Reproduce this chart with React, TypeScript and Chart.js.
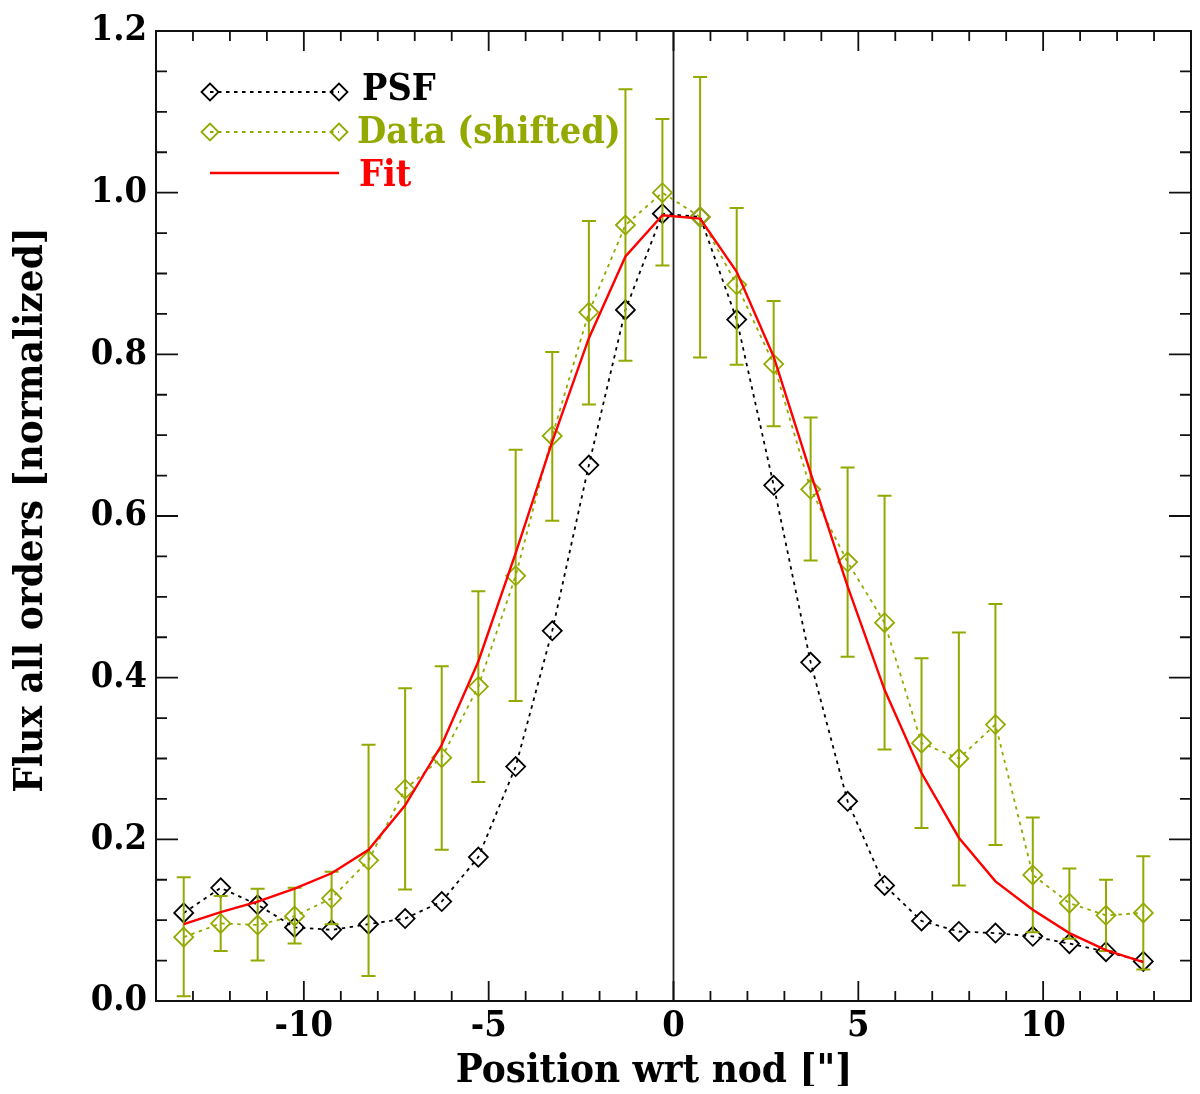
import React, { useEffect, useRef } from 'react';
import { Chart, registerables } from 'chart.js';

Chart.register(...registerables);

// ---- data ----
const positions = [-13.25, -12.25, -11.25, -10.25, -9.25, -8.25, -7.26, -6.27, -5.28, -4.27, -3.28, -2.29, -1.30, -0.30, 0.72, 1.71, 2.71, 3.71, 4.71, 5.71, 6.71, 7.72, 8.71, 9.72, 10.71, 11.70, 12.71];
const psfValues = [0.109, 0.140, 0.119, 0.091, 0.088, 0.095, 0.102, 0.123, 0.178, 0.290, 0.458, 0.663, 0.855, 0.974, 0.970, 0.843, 0.638, 0.419, 0.247, 0.143, 0.099, 0.086, 0.084, 0.080, 0.071, 0.061, 0.049];
const dataValues = [0.079, 0.096, 0.094, 0.105, 0.127, 0.174, 0.262, 0.301, 0.389, 0.526, 0.699, 0.852, 0.960, 1.000, 0.970, 0.886, 0.788, 0.633, 0.543, 0.468, 0.319, 0.300, 0.342, 0.156, 0.121, 0.106, 0.109];
const dataHigh = [0.153, 0.130, 0.139, 0.140, 0.160, 0.317, 0.387, 0.414, 0.507, 0.682, 0.803, 0.965, 1.128, 1.091, 1.143, 0.981, 0.866, 0.722, 0.660, 0.625, 0.424, 0.456, 0.491, 0.227, 0.164, 0.150, 0.179];
const dataLow = [0.006, 0.062, 0.050, 0.071, 0.095, 0.031, 0.138, 0.187, 0.271, 0.371, 0.594, 0.738, 0.792, 0.910, 0.796, 0.787, 0.711, 0.545, 0.426, 0.311, 0.214, 0.143, 0.193, 0.085, 0.077, 0.062, 0.039];
const fitValues = [0.095, 0.110, 0.123, 0.139, 0.158, 0.187, 0.242, 0.317, 0.420, 0.554, 0.692, 0.820, 0.921, 0.972, 0.968, 0.902, 0.797, 0.653, 0.513, 0.385, 0.282, 0.202, 0.148, 0.113, 0.084, 0.063, 0.048];

const xMajorTicks = [-10, -5, 0, 5, 10];
const xMinorTicks = [-13, -12, -11, -9, -8, -7, -6, -4, -3, -2, -1, 1, 2, 3, 4, 6, 7, 8, 9, 11, 12, 13];
const yMajorTicks = [0, 0.2, 0.4, 0.6, 0.8, 1.0, 1.2];
const yMinorTicks = [0.05, 0.1, 0.15, 0.25, 0.3, 0.35, 0.45, 0.5, 0.55, 0.65, 0.7, 0.75, 0.85, 0.9, 0.95, 1.05, 1.1, 1.15];

const legendLabels = ['PSF', 'Data (shifted)', 'Fit'];
const xTitle = 'Position wrt nod ["]';
const yTitle = 'Flux all orders [normalized]';

const FONT = "'DejaVu Serif Condensed', 'DejaVu Serif', serif";
const GREEN = '#94a900';
const BLACK = '#000000';
const RED = '#ff0000';

const toPoints = (ys: number[]) => positions.map((x, i) => ({ x, y: ys[i] }));

function diamond(ctx: CanvasRenderingContext2D, x: number, y: number, r: number) {
  ctx.beginPath();
  ctx.moveTo(x - r, y);
  ctx.lineTo(x, y - r);
  ctx.lineTo(x + r, y);
  ctx.lineTo(x, y + r);
  ctx.closePath();
  ctx.stroke();
}

const decorPlugin = {
  id: 'decor',
  beforeDatasetsDraw(chart: any) {
    const { ctx, chartArea: a, scales } = chart;
    const x0 = scales.x.getPixelForValue(0);
    ctx.save();
    ctx.strokeStyle = '#222';
    ctx.lineWidth = 1.8;
    ctx.beginPath();
    ctx.moveTo(x0, a.top);
    ctx.lineTo(x0, a.bottom);
    ctx.stroke();
    ctx.restore();
  },
  afterDatasetDraw(chart: any, args: any) {
    if (args.meta.label !== legendLabels[1]) return;
    const { ctx, scales } = chart;
    ctx.save();
    ctx.strokeStyle = GREEN;
    ctx.lineWidth = 2;
    positions.forEach((xv, i) => {
      const px = scales.x.getPixelForValue(xv);
      const top = scales.y.getPixelForValue(dataHigh[i]);
      const bot = scales.y.getPixelForValue(dataLow[i]);
      ctx.beginPath();
      ctx.moveTo(px, top);
      ctx.lineTo(px, bot);
      ctx.moveTo(px - 7, top);
      ctx.lineTo(px + 7, top);
      ctx.moveTo(px - 7, bot);
      ctx.lineTo(px + 7, bot);
      ctx.stroke();
    });
    ctx.restore();
  },
  afterDraw(chart: any) {
    const { ctx, chartArea: a, scales } = chart;
    ctx.save();
    // frame
    ctx.strokeStyle = '#111';
    ctx.lineWidth = 2;
    ctx.strokeRect(a.left, a.top, a.right - a.left, a.bottom - a.top);
    // ticks (inward, mirrored)
    ctx.lineWidth = 1.8;
    ctx.beginPath();
    const xt = (v: number, len: number) => {
      const p = scales.x.getPixelForValue(v);
      ctx.moveTo(p, a.bottom);
      ctx.lineTo(p, a.bottom - len);
      ctx.moveTo(p, a.top);
      ctx.lineTo(p, a.top + len);
    };
    const yt = (v: number, len: number) => {
      const p = scales.y.getPixelForValue(v);
      ctx.moveTo(a.left, p);
      ctx.lineTo(a.left + len, p);
      ctx.moveTo(a.right, p);
      ctx.lineTo(a.right - len, p);
    };
    xMajorTicks.forEach((v) => xt(v, 20));
    xMinorTicks.forEach((v) => xt(v, 10));
    yMajorTicks.forEach((v) => yt(v, 22));
    yMinorTicks.forEach((v) => yt(v, 11));
    ctx.stroke();

    // legend
    const lx1 = a.left + 54;
    const lx2 = a.left + 183;
    const rows = [a.top + 61, a.top + 101, a.top + 142];
    ctx.font = `bold 37.5px ${FONT}`;
    ctx.textBaseline = 'alphabetic';
    ctx.textAlign = 'left';
    // PSF
    ctx.lineWidth = 1.8;
    ctx.strokeStyle = BLACK;
    ctx.setLineDash([3.5, 4.5]);
    ctx.beginPath();
    ctx.moveTo(lx1, rows[0]);
    ctx.lineTo(lx2, rows[0]);
    ctx.stroke();
    ctx.setLineDash([]);
    diamond(ctx, lx1, rows[0], 8.5);
    diamond(ctx, lx2, rows[0], 8.5);
    ctx.fillStyle = BLACK;
    ctx.fillText(legendLabels[0], a.left + 206, rows[0] + 8);
    // Data
    ctx.strokeStyle = GREEN;
    ctx.setLineDash([3.5, 4.5]);
    ctx.beginPath();
    ctx.moveTo(lx1, rows[1]);
    ctx.lineTo(lx2, rows[1]);
    ctx.stroke();
    ctx.setLineDash([]);
    diamond(ctx, lx1, rows[1], 8.5);
    diamond(ctx, lx2, rows[1], 8.5);
    ctx.fillStyle = GREEN;
    ctx.fillText(legendLabels[1], a.left + 201, rows[1] + 11);
    // Fit
    ctx.strokeStyle = RED;
    ctx.lineWidth = 2.4;
    ctx.beginPath();
    ctx.moveTo(lx1, rows[2]);
    ctx.lineTo(lx2, rows[2]);
    ctx.stroke();
    ctx.fillStyle = RED;
    ctx.fillText(legendLabels[2], a.left + 203, rows[2] + 13);

    // axis titles
    ctx.font = `bold 40px ${FONT}`;
    ctx.fillStyle = BLACK;
    ctx.textAlign = 'center';
    ctx.fillText(xTitle, a.left + 498, a.bottom + 81);
    ctx.translate(24, (a.top + a.bottom) / 2 - 6);
    ctx.rotate(-Math.PI / 2);
    ctx.textBaseline = 'middle';
    ctx.fillText(yTitle, 0, 0);
    ctx.restore();
  },
};

export default function App() {
  const ref = useRef<HTMLCanvasElement | null>(null);
  useEffect(() => {
    if (!ref.current) return;
    const chart = new Chart(ref.current, {
      type: 'scatter',
      data: {
        datasets: [
          {
            label: legendLabels[0],
            data: toPoints(psfValues),
            showLine: true,
            borderColor: BLACK,
            borderWidth: 1.8,
            borderDash: [3.5, 4.5],
            pointStyle: 'rectRot',
            pointRadius: 9.5,
            pointBorderWidth: 1.8,
            pointBorderColor: BLACK,
            pointBackgroundColor: 'rgba(0,0,0,0)',
            order: 3,
          },
          {
            label: legendLabels[1],
            data: toPoints(dataValues),
            showLine: true,
            borderColor: GREEN,
            borderWidth: 1.8,
            borderDash: [3.5, 4.5],
            pointStyle: 'rectRot',
            pointRadius: 9.5,
            pointBorderWidth: 1.8,
            pointBorderColor: GREEN,
            pointBackgroundColor: 'rgba(0,0,0,0)',
            order: 2,
          },
          {
            label: legendLabels[2],
            data: toPoints(fitValues),
            showLine: true,
            borderColor: RED,
            borderWidth: 2.4,
            pointRadius: 0,
            order: 1,
          },
        ],
      } as any,
      options: {
        animation: false,
        responsive: true,
        maintainAspectRatio: false,
        devicePixelRatio: 1,
        layout: { autoPadding: false, padding: { top: 23, right: 1, left: 0, bottom: 0 } },
        plugins: { legend: { display: false }, tooltip: { enabled: false } },
        scales: {
          x: {
            type: 'linear',
            min: -14,
            max: 14,
            grid: { display: false, drawTicks: false },
            border: { display: false },
            afterBuildTicks: (s: any) => { s.ticks = xMajorTicks.map((v) => ({ value: v })); },
            afterFit: (s: any) => { s.height = 85; s.paddingLeft = 0; s.paddingRight = 0; },
            ticks: {
              autoSkip: false,
              maxRotation: 0,
              padding: 4,
              color: BLACK,
              font: { family: FONT, size: 36, weight: 'bold' },
              callback: (v: any) => String(v),
            },
          },
          y: {
            type: 'linear',
            min: 0,
            max: 1.2,
            grid: { display: false, drawTicks: false },
            border: { display: false },
            afterBuildTicks: (s: any) => { s.ticks = yMajorTicks.map((v) => ({ value: v })); },
            afterFit: (s: any) => { s.width = 148; s.paddingTop = 0; s.paddingBottom = 0; },
            ticks: {
              autoSkip: false,
              padding: 9,
              color: BLACK,
              font: { family: FONT, size: 36, weight: 'bold' },
              callback: (v: any) => Number(v).toFixed(1),
            },
          },
        },
      } as any,
      plugins: [decorPlugin],
    });
    return () => chart.destroy();
  }, []);
  return (
    <div style={{ width: 1184, height: 1078, position: 'relative' }}>
      <canvas ref={ref} />
    </div>
  );
}
